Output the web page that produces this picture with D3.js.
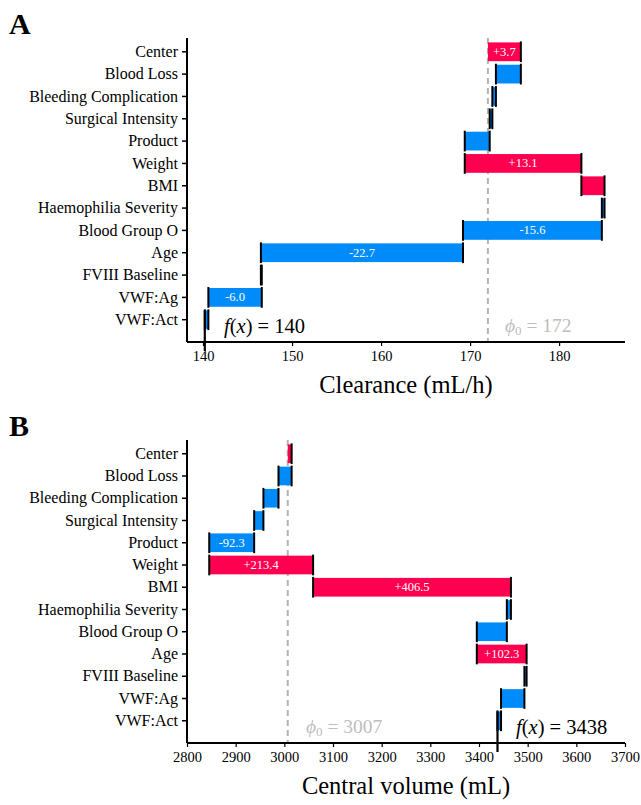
<!DOCTYPE html>
<html>
<head>
<meta charset="utf-8">
<script src="https://cdn.jsdelivr.net/npm/d3@7"></script>
<style>
  body { margin: 0; background: #fff; }
  svg { display: block; }
  svg text { font-family: "Liberation Serif", "Times New Roman", serif; }
</style>
</head>
<body>
<svg id="chart" width="641" height="805"></svg>
<script>
// Feature order, top to bottom
const features = ["Center", "Blood Loss", "Bleeding Complication", "Surgical Intensity", "Product",
  "Weight", "BMI", "Haemophilia Severity", "Blood Group O", "Age", "FVIII Baseline", "VWF:Ag", "VWF:Act"];

// Clearance contributions (mL/h)
const clearanceBase = 172;
const clearanceShap = [3.7, -2.8, -0.4, -0.3, -2.8, 13.1, 2.6, -0.3, -15.6, -22.7, 0.1, -6.0, -0.4];
const clearanceTicks = [140, 150, 160, 170, 180];

// Central volume contributions (mL)
const volumeBase = 3007;
const volumeShap = [8, -27, -31, -19, -92.3, 213.4, 406.5, -8.4, -61.7, 102.3, -4.5, -48, -7.3];
const volumeTicks = [2800, 2900, 3000, 3100, 3200, 3300, 3400, 3500, 3600, 3700];

const RED = "#ff0051", BLUE = "#008bfb";
const svg = d3.select("#chart");

function panel(opts) {
  const { letter, top, bottom, domain, base, shap, ticks, title } = opts;
  const left = 187, right = 625;
  const g = svg.append("g");

  g.append("text").attr("x", 9).attr("y", top - 4)
    .style("font-size", "30px").style("font-weight", "bold").text(letter);

  const x = d3.scaleLinear().domain(domain).range([left, right]);
  const y = d3.scaleBand().domain(features)
    .range([top + 1.5, bottom - 10]).paddingInner(0).paddingOuter(0.05);
  const bh = y.bandwidth() * 0.84;

  // cumulative waterfall segments
  let acc = base;
  const segs = shap.map((v, i) => {
    const s = { name: features[i], start: acc, end: acc + v, v };
    acc += v;
    return s;
  });
  const fx = acc;

  // base value reference line
  g.append("line")
    .attr("x1", x(base)).attr("x2", x(base))
    .attr("y1", top).attr("y2", bottom)
    .attr("stroke", "#b3b3b3").attr("stroke-width", 2).attr("stroke-dasharray", "6,4");

  // bars
  g.selectAll(".bar").data(segs).join("rect")
    .attr("x", d => x(Math.min(d.start, d.end)))
    .attr("width", d => Math.abs(x(d.end) - x(d.start)))
    .attr("y", d => y(d.name) + (y.bandwidth() - bh) / 2)
    .attr("height", bh)
    .attr("fill", d => d.v >= 0 ? RED : BLUE);

  // edge markers at segment boundaries
  const edges = [];
  segs.forEach((d, i) => {
    if (i > 0) edges.push({ xv: d.start, name: d.name });
    edges.push({ xv: d.end, name: d.name });
  });
  g.selectAll(".edge").data(edges).join("line")
    .attr("x1", d => x(d.xv)).attr("x2", d => x(d.xv))
    .attr("y1", d => y(d.name) + (y.bandwidth() - bh) / 2 - 1)
    .attr("y2", d => y(d.name) + (y.bandwidth() + bh) / 2 + 1)
    .attr("stroke", "#000").attr("stroke-width", 2);

  // final value marker down to the axis
  const last = segs[segs.length - 1];
  g.append("line")
    .attr("x1", x(fx)).attr("x2", x(fx))
    .attr("y1", y(last.name) + (y.bandwidth() - bh) / 2)
    .attr("y2", bottom + 9)
    .attr("stroke", "#000").attr("stroke-width", 2.2);

  // value labels inside wide bars
  g.selectAll(".lab").data(segs.filter(d => Math.abs(x(d.end) - x(d.start)) > 32)).join("text")
    .attr("x", d => (x(d.start) + x(d.end)) / 2)
    .attr("y", d => y(d.name) + y.bandwidth() / 2 + 4)
    .attr("text-anchor", "middle").attr("fill", "#fff").style("font-size", "12.5px")
    .text(d => (d.v >= 0 ? "+" : "") + d.v.toFixed(1));

  // axes
  const xa = g.append("g").attr("transform", `translate(0,${bottom})`)
    .call(d3.axisBottom(x).tickValues(ticks).tickSize(4).tickPadding(5).tickFormat(d3.format("d")));
  xa.select(".domain").attr("stroke-width", 2).attr("d", `M${left},0H${right}`);
  xa.selectAll(".tick line").attr("stroke-width", 1.2);
  xa.selectAll("text").style("font-size", "14.5px");

  const ya = g.append("g").attr("transform", `translate(${left},0)`)
    .call(d3.axisLeft(y).tickSize(5).tickPadding(4));
  ya.select(".domain").attr("stroke-width", 2).attr("d", `M0,${top}V${bottom}`);
  ya.selectAll(".tick line").attr("stroke-width", 1.5);
  ya.selectAll("text").style("font-size", "16px");

  // axis title
  g.append("text").attr("x", (left + right) / 2).attr("y", bottom + 51)
    .attr("text-anchor", "middle").style("font-size", "24.5px").text(title);

  // base value annotation
  const phi = g.append("text").attr("x", opts.phiX).attr("y", bottom - 10)
    .attr("fill", "#bdbdbd").style("font-size", "19.5px");
  phi.append("tspan").style("font-style", "italic").text("ϕ");
  phi.append("tspan").style("font-size", "13px").attr("dy", 3).text("0");
  phi.append("tspan").attr("dy", -3).text(" = " + d3.format("d")(Math.round(base)));

  // prediction annotation
  const f = g.append("text").attr("x", opts.fX).attr("y", bottom - 9)
    .attr("fill", "#000").style("font-size", "20.5px");
  f.append("tspan").style("font-style", "italic").text("f");
  f.append("tspan").text("(");
  f.append("tspan").style("font-style", "italic").text("x");
  f.append("tspan").text(") = " + Math.round(fx));
}

panel({ letter: "A", top: 38, bottom: 342, domain: [138.2, 187.4], base: clearanceBase,
  shap: clearanceShap, ticks: clearanceTicks, title: "Clearance (mL/h)", phiX: 505, fX: 224 });
panel({ letter: "B", top: 440, bottom: 743, domain: [2800, 3700], base: volumeBase,
  shap: volumeShap, ticks: volumeTicks, title: "Central volume (mL)", phiX: 306, fX: 516 });
</script>
</body>
</html>
